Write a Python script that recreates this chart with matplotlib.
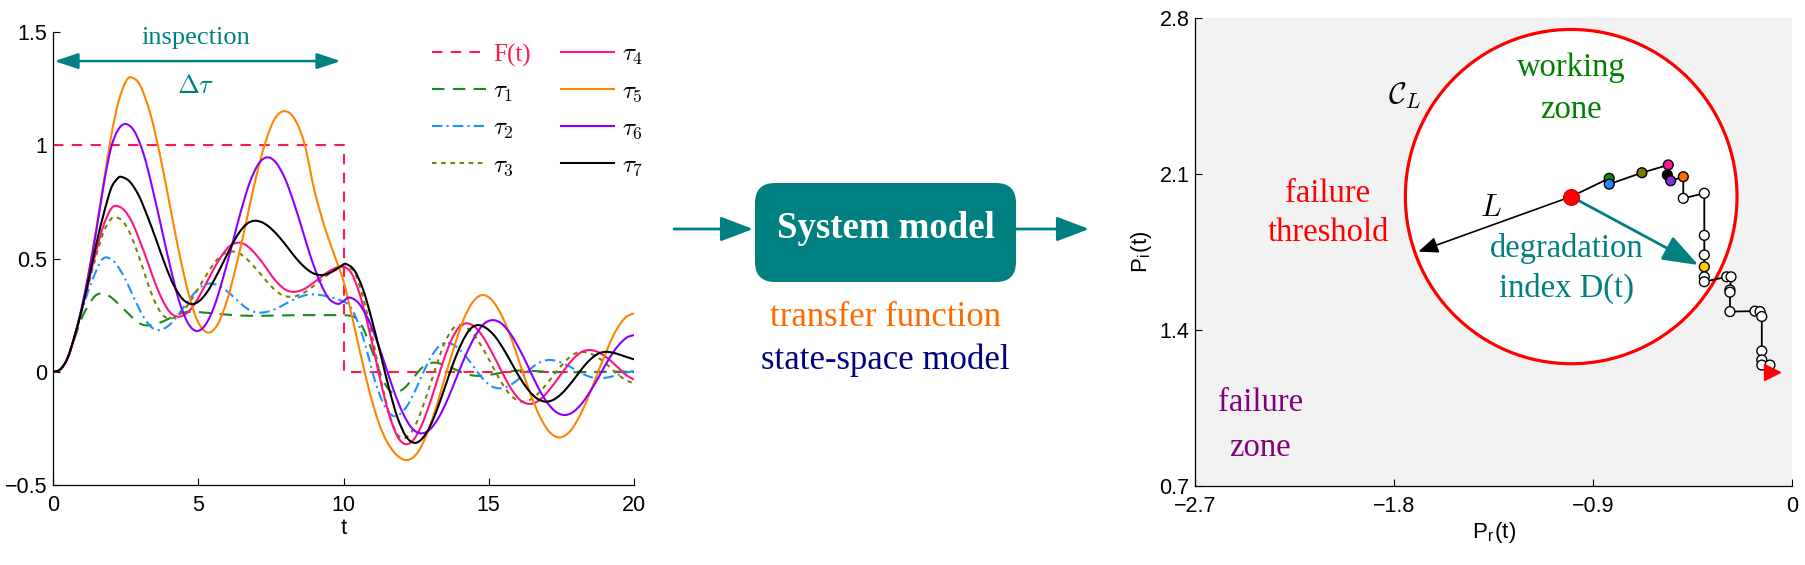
import matplotlib
matplotlib.use('Agg')
import matplotlib.pyplot as plt
from matplotlib.patches import Ellipse, FancyBboxPatch, FancyArrowPatch, PathPatch
from matplotlib.lines import Line2D
from matplotlib.path import Path

plt.rcParams['mathtext.fontset'] = 'cm'
plt.rcParams['font.family'] = ['Liberation Sans', 'DejaVu Sans']

SERIF = 'Liberation Serif'
TEAL = '#008080'

# ---------------- data: left panel ----------------
TF = [0, 10, 10, 20]
YF = [1, 1, 0, 0]

T1 = [0, 0.25, 0.5, 0.75, 1.0, 1.25, 1.45, 1.64, 1.84, 2.04, 2.24, 2.44, 2.64, 2.84, 3.04, 3.25,
      3.6, 4.0, 4.4, 4.75, 5.5, 6.5, 7.5, 8.5, 9.5, 10.0, 10.3, 10.48, 10.66, 10.84, 11.03, 11.21,
      11.39, 11.57, 11.75, 12.08, 12.4, 12.73, 13.05, 13.44, 13.83, 14.21, 14.6, 15.0, 15.4, 15.8,
      16.2, 17.0, 18.0, 19.0, 20.0]
Y1 = [0, 0.01, 0.06, 0.15, 0.24, 0.30, 0.335, 0.346, 0.341, 0.325, 0.301, 0.276, 0.251, 0.227, 0.21, 0.205,
      0.213, 0.235, 0.258, 0.265, 0.258, 0.248, 0.248, 0.25, 0.25, 0.25, 0.245, 0.232, 0.196, 0.141, 0.076, 0.011,
      -0.044, -0.08, -0.093, -0.074, -0.027, 0.021, 0.04, 0.032, 0.011, -0.01, -0.018, -0.014, -0.005, 0.003,
      0.006, 0.0, -0.002, 0.0, 0.0]

T2 = [0, 0.25, 0.5, 0.75, 1.0, 1.25, 1.5, 1.65, 1.82, 2.05, 2.27, 2.5, 2.72, 2.95, 3.17, 3.4, 3.62,
      3.84, 4.07, 4.29, 4.51, 4.73, 4.96, 5.18, 5.4, 5.61, 5.83, 6.04, 6.26, 6.47, 6.68, 6.9, 7.11,
      7.34, 7.57, 7.8, 8.03, 8.26, 8.49, 8.72, 8.95, 9.3, 9.65, 10.0, 10.22, 10.44, 10.66, 10.88, 11.09,
      11.31, 11.53, 11.75, 11.97, 12.2, 12.42, 12.64, 12.86, 13.09, 13.31, 13.53, 13.76, 13.99, 14.22,
      14.45, 14.67, 14.9, 15.13, 15.36, 15.58, 15.79, 16.01, 16.22, 16.44, 16.65, 16.87, 17.08, 17.3,
      17.51, 17.73, 17.94, 18.16, 18.37, 18.59, 18.8, 19.1, 19.4, 19.7, 20.0]
Y2 = [0, 0.01, 0.06, 0.16, 0.27, 0.37, 0.45, 0.49, 0.505, 0.493, 0.458, 0.406, 0.345, 0.283, 0.231, 0.196, 0.184,
      0.192, 0.214, 0.248, 0.287, 0.326, 0.36, 0.382, 0.39, 0.385, 0.371, 0.35, 0.326, 0.301, 0.279, 0.266, 0.261,
      0.264, 0.273, 0.286, 0.302, 0.317, 0.33, 0.339, 0.342, 0.337, 0.326, 0.31, 0.29, 0.236, 0.157, 0.057, -0.043,
      -0.122, -0.176, -0.196, -0.184, -0.149, -0.096, -0.034, 0.028, 0.081, 0.116, 0.128, 0.121, 0.099, 0.066,
      0.028, -0.011, -0.044, -0.066, -0.073, -0.068, -0.055, -0.034, -0.011, 0.013, 0.034, 0.047, 0.052, 0.049,
      0.04, 0.027, 0.012, -0.004, -0.017, -0.026, -0.029, -0.025, -0.015, -0.005, 0.004]

T3 = [0, 0.25, 0.5, 0.75, 1.0, 1.25, 1.5, 1.75, 2.0, 2.17, 2.4, 2.63, 2.86, 3.09, 3.31, 3.54, 3.77, 4.0,
      4.27, 4.54, 4.8, 5.07, 5.34, 5.6, 5.87, 6.14, 6.39, 6.64, 6.89, 7.15, 7.4, 7.65, 7.9, 8.15, 8.4, 8.65,
      8.9, 9.15, 9.4, 9.65, 9.9, 10.15, 10.39, 10.62, 10.86, 11.1, 11.33, 11.57, 11.8, 12.04, 12.28, 12.53,
      12.77, 13.02, 13.26, 13.5, 13.75, 13.99, 14.26, 14.53, 14.8, 15.08, 15.35, 15.62, 15.89, 16.16, 16.42,
      16.67, 16.93, 17.19, 17.45, 17.71, 17.96, 18.22, 18.47, 18.72, 18.97, 19.22, 19.47, 19.72, 20.0]
Y3 = [0, 0.01, 0.06, 0.16, 0.28, 0.40, 0.52, 0.62, 0.675, 0.682, 0.665, 0.617, 0.544, 0.459, 0.373, 0.30, 0.252, 0.235,
      0.246, 0.278, 0.326, 0.383, 0.44, 0.488, 0.52, 0.531, 0.524, 0.502, 0.469, 0.431, 0.393, 0.36, 0.338, 0.331, 0.336, 0.35,
      0.372, 0.398, 0.423, 0.445, 0.459, 0.464, 0.436, 0.353, 0.23, 0.085, -0.06, -0.183, -0.266, -0.294, -0.276, -0.221,
      -0.139, -0.044, 0.051, 0.133, 0.188, 0.206, 0.193, 0.157, 0.102, 0.037, -0.028, -0.083, -0.119, -0.132, -0.124,
      -0.10, -0.064, -0.022, 0.02, 0.056, 0.08, 0.088, 0.082, 0.066, 0.043, 0.014, -0.014, -0.037, -0.051]

T4 = [0, 0.25, 0.5, 0.75, 1.0, 1.25, 1.5, 1.75, 2.0, 2.19, 2.45, 2.72, 2.98, 3.25, 3.51, 3.78, 4.04, 4.31,
      4.57, 4.83, 5.08, 5.34, 5.6, 5.86, 6.11, 6.37, 6.61, 6.84, 7.08, 7.32, 7.55, 7.79, 8.02, 8.26, 8.48, 8.7,
      8.91, 9.13, 9.35, 9.57, 9.78, 10.0, 10.27, 10.54, 10.81, 11.08, 11.34, 11.61, 11.88, 12.15, 12.41, 12.67,
      12.93, 13.19, 13.44, 13.7, 13.96, 14.22, 14.49, 14.76, 15.03, 15.31, 15.58, 15.85, 16.12, 16.39, 16.65,
      16.9, 17.16, 17.42, 17.68, 17.94, 18.19, 18.45, 18.71, 18.96, 19.22, 19.48, 19.73, 20.0]
Y4 = [0, 0.01, 0.06, 0.16, 0.28, 0.41, 0.54, 0.65, 0.72, 0.732, 0.714, 0.661, 0.581, 0.488, 0.394, 0.314, 0.261, 0.243,
      0.255, 0.291, 0.344, 0.407, 0.469, 0.522, 0.558, 0.57, 0.562, 0.538, 0.503, 0.462, 0.42, 0.385, 0.361, 0.353, 0.357, 0.369,
      0.388, 0.409, 0.43, 0.449, 0.461, 0.465, 0.436, 0.35, 0.222, 0.073, -0.077, -0.205, -0.291, -0.32, -0.30, -0.242,
      -0.155, -0.053, 0.049, 0.136, 0.194, 0.214, 0.201, 0.162, 0.104, 0.036, -0.032, -0.09, -0.129, -0.142, -0.133,
      -0.107, -0.068, -0.023, 0.022, 0.061, 0.087, 0.096, 0.09, 0.072, 0.046, 0.015, -0.015, -0.034]

T5 = [0, 0.25, 0.5, 0.75, 1.0, 1.25, 1.5, 1.75, 2.0, 2.25, 2.5, 2.7, 3.0, 3.36, 3.69, 4.02, 4.35, 4.68, 5.0, 5.34,
      5.67, 6.0, 6.32, 6.65, 6.97, 7.3, 7.62, 7.95, 8.3, 8.65, 9.0, 9.35, 9.7, 10.0, 10.3, 10.6, 10.9, 11.2, 11.5,
      11.85, 12.19, 12.52, 12.84, 13.17, 13.49, 13.82, 14.14, 14.47, 14.79, 15.12, 15.45, 15.78, 16.1, 16.43, 16.76,
      17.09, 17.42, 17.75, 18.07, 18.4, 18.72, 19.05, 19.37, 19.7, 20.0]
Y5 = [0, 0.01, 0.06, 0.16, 0.28, 0.45, 0.64, 0.84, 1.04, 1.19, 1.28, 1.30, 1.264, 1.135, 0.952, 0.737, 0.521, 0.338, 0.218, 0.173,
      0.21, 0.319, 0.475, 0.662, 0.849, 1.008, 1.114, 1.151, 1.12, 1.01, 0.80, 0.64, 0.51, 0.40, 0.24, 0.07, -0.09, -0.22, -0.31,
      -0.37, -0.39, -0.362, -0.284, -0.165, -0.026, 0.114, 0.233, 0.311, 0.339, 0.315, 0.247, 0.145, 0.025, -0.096, -0.198,
      -0.266, -0.29, -0.269, -0.21, -0.12, -0.015, 0.09, 0.18, 0.239, 0.258]

T6 = [0, 0.25, 0.5, 0.75, 1.0, 1.25, 1.5, 1.75, 2.0, 2.25, 2.51, 2.81, 3.12, 3.42, 3.73, 4.04, 4.34, 4.65, 4.95,
      5.25, 5.56, 5.86, 6.17, 6.47, 6.77, 7.08, 7.38, 7.68, 7.99, 8.29, 8.59, 8.89, 9.2, 9.5, 9.8, 10.0, 10.2, 10.5,
      10.82, 11.13, 11.44, 11.74, 12.05, 12.36, 12.67, 12.98, 13.29, 13.6, 13.9, 14.21, 14.52, 14.82, 15.13, 15.44,
      15.75, 16.06, 16.37, 16.67, 16.98, 17.29, 17.6, 17.9, 18.21, 18.52, 18.83, 19.13, 19.44, 19.75, 20.0]
Y6 = [0, 0.01, 0.06, 0.16, 0.29, 0.45, 0.63, 0.83, 0.99, 1.07, 1.094, 1.06, 0.961, 0.812, 0.637, 0.462, 0.313, 0.214, 0.18,
      0.208, 0.292, 0.417, 0.564, 0.71, 0.835, 0.919, 0.947, 0.923, 0.852, 0.747, 0.624, 0.50, 0.394, 0.323, 0.30, 0.312, 0.328, 0.306,
      0.24, 0.143, 0.028, -0.087, -0.184, -0.25, -0.272, -0.254, -0.199, -0.117, -0.022, 0.074, 0.155, 0.21, 0.228, 0.213,
      0.167, 0.099, 0.019, -0.062, -0.13, -0.175, -0.191, -0.178, -0.139, -0.081, -0.013, 0.055, 0.113, 0.151, 0.162]

T7 = [0, 0.25, 0.5, 0.75, 1.0, 1.25, 1.5, 1.75, 2.0, 2.2, 2.34, 2.64, 2.95, 3.25, 3.56, 3.86, 4.16, 4.47, 4.77,
      5.04, 5.31, 5.58, 5.86, 6.13, 6.4, 6.67, 6.94, 7.23, 7.51, 7.8, 8.09, 8.37, 8.66, 8.94, 9.23, 9.5, 9.75, 9.95,
      10.09, 10.38, 10.68, 10.97, 11.27, 11.56, 11.85, 12.15, 12.44, 12.71, 12.99, 13.26, 13.53, 13.8, 14.08, 14.35,
      14.62, 14.91, 15.21, 15.5, 15.79, 16.08, 16.38, 16.67, 16.96, 17.22, 17.48, 17.74, 18.0, 18.25, 18.51, 18.77,
      19.03, 19.35, 19.7, 20.0]
Y7 = [0, 0.01, 0.06, 0.16, 0.28, 0.42, 0.57, 0.70, 0.81, 0.85, 0.861, 0.84, 0.779, 0.687, 0.58, 0.473, 0.381, 0.32, 0.299,
      0.313, 0.353, 0.413, 0.483, 0.553, 0.613, 0.653, 0.667, 0.658, 0.632, 0.593, 0.547, 0.501, 0.462, 0.436, 0.427, 0.435, 0.453, 0.47,
      0.476, 0.447, 0.361, 0.232, 0.081, -0.07, -0.199, -0.285, -0.314, -0.295, -0.238, -0.153, -0.054, 0.045, 0.13, 0.187,
      0.206, 0.193, 0.157, 0.102, 0.037, -0.028, -0.083, -0.119, -0.132, -0.124, -0.10, -0.064, -0.022, 0.02, 0.056, 0.08,
      0.088, 0.082, 0.067, 0.055]

LEGEND_LABELS = ['F(t)', r'$\tau_1$', r'$\tau_2$', r'$\tau_3$', r'$\tau_4$', r'$\tau_5$', r'$\tau_6$', r'$\tau_7$']
X_TICKS_L = [0, 5, 10, 15, 20]
Y_TICKS_L = [-0.5, 0, 0.5, 1, 1.5]
Y_TICKLABELS_L = ['\u22120.5', '0', '0.5', '1', '1.5']

# ---------------- data: right panel ----------------
PR = [-1.0, -0.828, -0.828, -0.680, -0.561, -0.565, -0.550, -0.493, -0.493, -0.398, -0.398, -0.398, -0.398,
      -0.398, -0.398, -0.297, -0.277, -0.282, -0.282, -0.282, -0.169, -0.146, -0.138, -0.138, -0.138, -0.138, -0.101]
PI = [2.0, 2.082, 2.056, 2.107, 2.142, 2.097, 2.071, 2.089, 1.992, 2.015, 1.826, 1.738, 1.685,
      1.640, 1.618, 1.640, 1.640, 1.581, 1.571, 1.484, 1.486, 1.484, 1.462, 1.307, 1.267, 1.244, 1.244]
PT_COLORS = ['#ff0000', '#138a13', '#1e88ff', '#7a7a00', '#ff1493', '#000000', '#8a2be2', '#ff6a00',
             'white', 'white', 'white', 'white', '#ffcc00', 'white', 'white', 'white', 'white', 'white',
             'white', 'white', 'white', 'white', 'white', 'white', 'white', 'white', 'white']
END_PT = (-0.093, 1.214)
CENTER = (-1.0, 2.0)
RADIUS = 0.75
L_TIP = (-1.691, 1.753)
D_TIP = (-0.425, 1.693)
X_TICKS_R = [-2.7, -1.8, -0.9, 0]
X_TICKLABELS_R = ['\u22122.7', '\u22121.8', '\u22120.9', '0']
Y_TICKS_R = [0.7, 1.4, 2.1, 2.8]


def smooth_path(t, y):
    """Smooth cubic Bezier path passing through every data point (Catmull-Rom tangents)."""
    n = len(t)
    verts = [(t[0], y[0])]
    codes = [Path.MOVETO]
    for i in range(n - 1):
        a = i - 1 if i > 0 else i
        d = i + 2 if i + 2 < n else i + 1
        c1 = (t[i] + (t[i + 1] - t[a]) / 6.0, y[i] + (y[i + 1] - y[a]) / 6.0)
        c2 = (t[i + 1] - (t[d] - t[i]) / 6.0, y[i + 1] - (y[d] - y[i]) / 6.0)
        verts += [c1, c2, (t[i + 1], y[i + 1])]
        codes += [Path.CURVE4] * 3
    return Path(verts, codes)


# ---------------- figure ----------------
W, H = 1806, 565
fig = plt.figure(figsize=(W / 100, H / 100), dpi=100)

ax1 = fig.add_axes([53 / W, (H - 485) / H, 581 / W, 452.9 / H])
LW = 1.5
styles = [
    ('#ff1a4a', (0, (5, 4))),
    ('#1a8a1a', (0, (6, 4))),
    ('#1e90ff', (0, (5, 2, 1, 2))),
    ('#808000', (0, (2.2, 2.2))),
    ('#ff1482', '-'),
    ('#ff8400', '-'),
    ('#8a00ff', '-'),
    ('black', '-'),
]
ax1.plot(TF, YF, color=styles[0][0], lw=LW, ls=styles[0][1], zorder=2)
series = [(T1, Y1), (T2, Y2), (T3, Y3), (T4, Y4), (T5, Y5), (T6, Y6), (T7, Y7)]
for k, (tt, yy) in enumerate(series, start=1):
    col, ls = styles[k]
    ax1.add_patch(PathPatch(smooth_path(tt, yy), fill=False, edgecolor=col, lw=LW, linestyle=ls,
                            capstyle='butt', joinstyle='round', zorder=2 + k * 0.01))
handles = [Line2D([], [], color=c, lw=LW, ls=s) for c, s in styles]

ax1.set_xlim(0, 20)
ax1.set_ylim(-0.5, 1.5)
ax1.set_xticks(X_TICKS_L)
ax1.set_yticks(Y_TICKS_L)
ax1.set_yticklabels(Y_TICKLABELS_L)
for s in ['top', 'right']:
    ax1.spines[s].set_visible(False)
for s in ['left', 'bottom']:
    ax1.spines[s].set_linewidth(0.9)
ax1.tick_params(direction='in', length=5, labelsize=15.5)
ax1.tick_params(axis='x', pad=7)
ax1.tick_params(axis='y', pad=4)
ax1.set_xlabel('t', fontsize=16, labelpad=2)

leg = ax1.legend(handles, LEGEND_LABELS, ncol=2, loc='upper left', bbox_to_anchor=(0.652, 0.975),
                 frameon=False, handlelength=2.15, handletextpad=0.3, columnspacing=1.2,
                 labelspacing=0.53, borderaxespad=0, borderpad=0, prop={'family': SERIF, 'size': 18})
leg.get_texts()[0].set_color(styles[0][0])

ax1.annotate('', xy=(0.05, 1.372), xytext=(9.9, 1.372),
             arrowprops=dict(arrowstyle='<|-|>,head_length=0.9,head_width=0.3', color=TEAL, lw=1.8,
                             mutation_scale=16, shrinkA=0, shrinkB=0))
ax1.text(4.9, 1.475, 'inspection', ha='center', va='center', color=TEAL, fontsize=19, family=SERIF)
ax1.text(4.9, 1.26, r'$\Delta\tau$', ha='center', va='center', color=TEAL, fontsize=19)

# ---------------- middle block ----------------
tr = fig.dpi_scale_trans
box = FancyBboxPatch((7.55, 2.83), 2.61, 0.99, boxstyle='round,pad=0,rounding_size=0.2',
                     transform=tr, facecolor=TEAL, edgecolor='none')
fig.add_artist(box)
fig.text(8.855, 3.36, 'System model', transform=tr, ha='center', va='center', color='white',
         fontsize=26.5, fontweight='bold', family=SERIF)
fig.text(8.855, 2.48, 'transfer function', transform=tr, ha='center', va='center', color='#ff6a00',
         fontsize=25, family=SERIF)
fig.text(8.855, 2.05, 'state-space model', transform=tr, ha='center', va='center', color='#000080',
         fontsize=25, family=SERIF)
for (xa, xb) in [(6.74, 7.53), (10.16, 10.89)]:
    arr = FancyArrowPatch((xa, 3.36), (xb, 3.36), transform=tr, color=TEAL, lw=2,
                          arrowstyle='-|>,head_length=1.0,head_width=0.38', mutation_scale=20,
                          shrinkA=0, shrinkB=0)
    fig.add_artist(arr)

# ---------------- right panel ----------------
ax2 = fig.add_axes([1195.3 / W, (H - 486.3) / H, 597 / W, 468 / H])
ax2.set_facecolor('#f2f2f2')
ax2.set_xlim(-2.7, 0)
ax2.set_ylim(0.7, 2.8)
ax2.set_xticks(X_TICKS_R)
ax2.set_xticklabels(X_TICKLABELS_R)
ax2.set_yticks(Y_TICKS_R)
for s in ['top', 'right']:
    ax2.spines[s].set_visible(False)
for s in ['left', 'bottom']:
    ax2.spines[s].set_linewidth(0.9)
ax2.tick_params(direction='in', length=5, labelsize=15.5)
ax2.tick_params(axis='x', pad=7)
ax2.tick_params(axis='y', pad=4)
ax2.set_xlabel(r'P$_\mathregular{r}$(t)', fontsize=16, labelpad=2)
ax2.set_ylabel(r'P$_\mathregular{i}$(t)', fontsize=16, labelpad=4)

ax2.add_patch(Ellipse(CENTER, 2 * RADIUS, 2 * RADIUS, facecolor='white', edgecolor='#ff0000', lw=2.3, zorder=1))
ax2.plot(PR + [END_PT[0]], PI + [END_PT[1]], color='black', lw=1.3, zorder=3)
ax2.scatter(PR[1:], PI[1:], s=50, c=PT_COLORS[1:], edgecolors='black', linewidths=1.0, zorder=4)
ax2.scatter([PR[0]], [PI[0]], s=130, c=[PT_COLORS[0]], edgecolors='#cc0000', linewidths=0.8, zorder=5)
ax2.plot([END_PT[0]], [END_PT[1]], marker='>', color='#ff0000', ms=12, mec='#ff0000', zorder=6)

ax2.annotate('', xy=L_TIP, xytext=CENTER,
             arrowprops=dict(arrowstyle='-|>,head_length=0.85,head_width=0.35', color='black', lw=1.2,
                             mutation_scale=14, shrinkA=0, shrinkB=0), zorder=3)
ax2.annotate('', xy=D_TIP, xytext=CENTER,
             arrowprops=dict(arrowstyle='-|>,head_length=1.1,head_width=0.4', color=TEAL, lw=2,
                             mutation_scale=20, shrinkA=0, shrinkB=0), zorder=3)

tk = dict(ha='center', va='center', fontsize=23.5, family=SERIF)
ax2.text(-1.0, 2.58, 'working', color='#008000', **tk)
ax2.text(-1.0, 2.39, 'zone', color='#008000', **tk)
ax2.text(-2.1, 2.013, 'failure', color='#ff0000', **tk)
ax2.text(-2.1, 1.836, 'threshold', color='#ff0000', **tk)
ax2.text(-1.021, 1.766, 'degradation', color=TEAL, **tk)
ax2.text(-1.021, 1.589, 'index D(t)', color=TEAL, **tk)
ax2.text(-2.407, 1.074, 'failure', color='#800080', **tk)
ax2.text(-2.407, 0.873, 'zone', color='#800080', **tk)
ax2.text(-1.754, 2.45, r'$\mathcal{C}_L$', ha='center', va='center', fontsize=22, color='black')
ax2.text(-1.362, 1.947, r'$L$', ha='center', va='center', fontsize=22, color='black')

fig.savefig('out.png', dpi=100)
